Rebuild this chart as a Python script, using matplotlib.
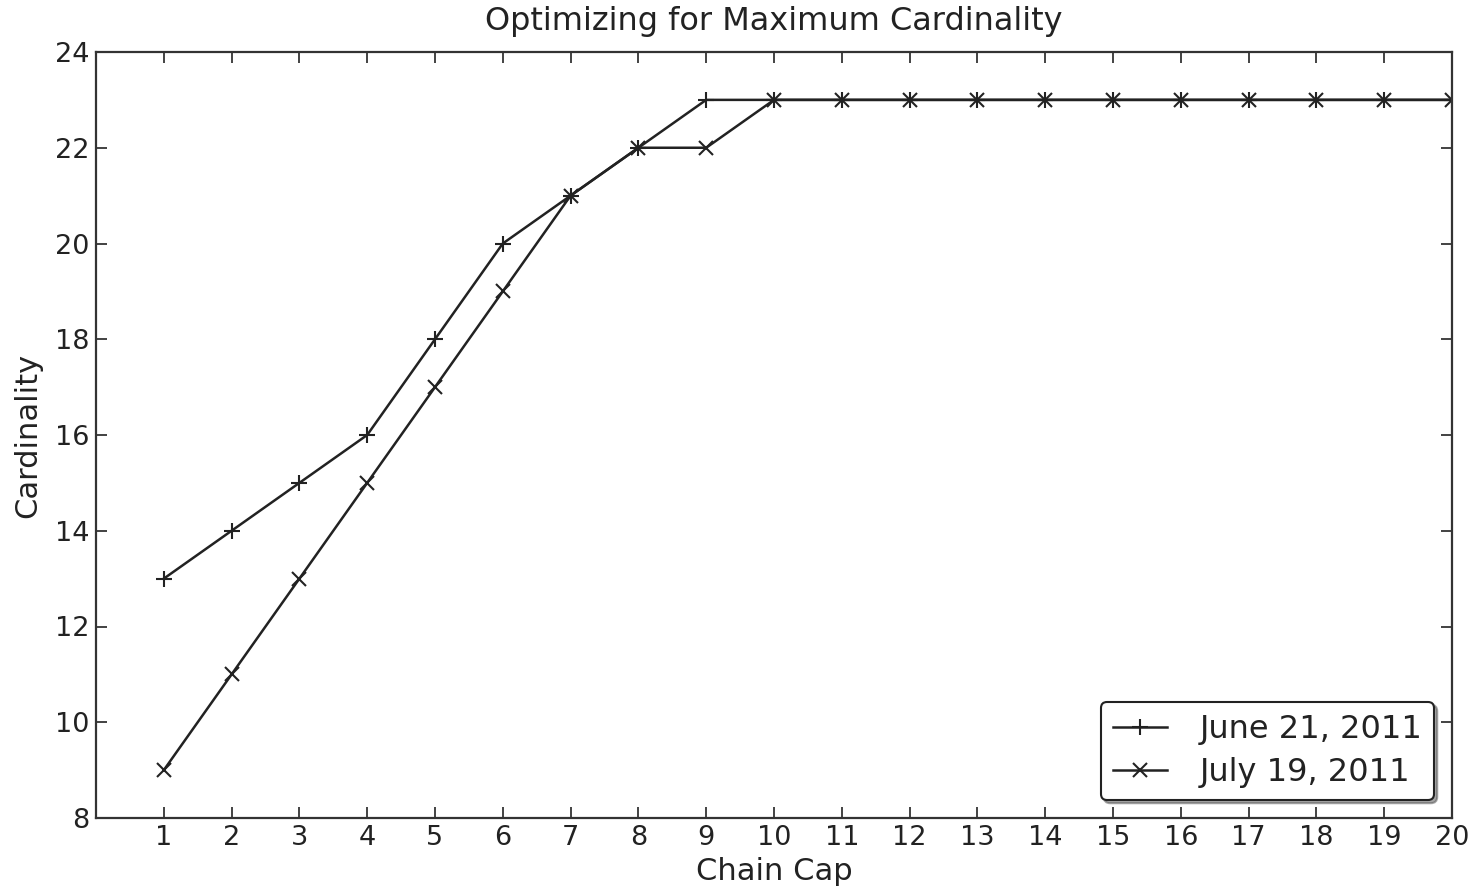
import matplotlib
matplotlib.use("Agg")
import matplotlib.pyplot as plt

chain_cap = list(range(1, 21))
june = [13, 14, 15, 16, 18, 20, 21, 22, 23, 23, 23, 23, 23, 23, 23, 23, 23, 23, 23, 23]
july = [9, 11, 13, 15, 17, 19, 21, 22, 22, 23, 23, 23, 23, 23, 23, 23, 23, 23, 23, 23]
xticks = list(range(1, 21))
yticks = list(range(8, 25, 2))

plt.rcParams['font.family'] = ['DejaVu Sans']
fig = plt.figure(figsize=(14.78, 8.86), dpi=100)
ax = fig.add_axes([96/1478, 1 - 818/886, (1452-96)/1478, (818-52)/886])

lc = '#222222'
ax.plot(chain_cap, june, color=lc, marker='+', markersize=11, markeredgewidth=1.5, linewidth=1.8, label='June 21, 2011')
ax.plot(chain_cap, july, color=lc, marker='x', markersize=10, markeredgewidth=1.5, linewidth=1.8, label='July 19, 2011')

ax.set_xlim(0, 20)
ax.set_ylim(8, 24)
ax.set_xticks(xticks)
ax.set_yticks(yticks)
ax.tick_params(direction='in', length=8, width=1.2, top=True, right=True, labelsize=19.5, colors='#222222', pad=5)
for s in ax.spines.values():
    s.set_linewidth(1.6)
    s.set_color('#333333')

ax.set_title('Optimizing for Maximum Cardinality', fontsize=23, color='#222222', pad=16)
ax.set_xlabel('Chain Cap', fontsize=22, color='#222222', labelpad=4)
ax.set_ylabel('Cardinality', fontsize=22, color='#222222', labelpad=9)

leg = ax.legend(loc='lower right', fontsize=23, shadow=True, fancybox=True, framealpha=1,
                handlelength=1.7, borderpad=0.38, labelspacing=0.38, handletextpad=1.0,
                borderaxespad=0.55, edgecolor='#222222')
leg.get_frame().set_linewidth(1.5)
for t in leg.get_texts():
    t.set_color('#222222')

fig.savefig('out.png', dpi=100)
